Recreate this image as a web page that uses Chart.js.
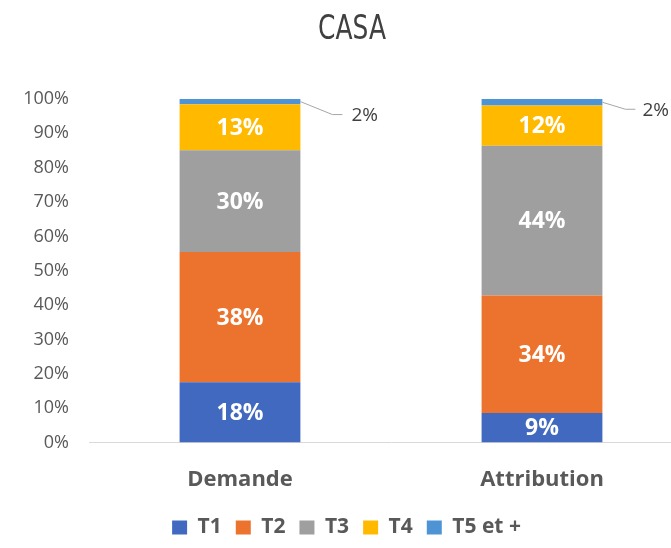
<!DOCTYPE html>
<html>
<head>
<meta charset="utf-8">
<script src="https://cdn.jsdelivr.net/npm/chart.js@4"></script>
<style>
  html, body { margin: 0; padding: 0; background: #fff; overflow: hidden; }
  #wrap { width: 671px; height: 548px; overflow: hidden; }
  #box { width: 693px; height: 548px; }
</style>
</head>
<body>
<div id="wrap"><div id="box"><canvas id="casaChart"></canvas></div></div>
<script>
// Valeurs (en %)
const categories = ['Demande', 'Attribution'];
const seriesNames = ['T1', 'T2', 'T3', 'T4', 'T5 et +'];
const t1 = [17.6, 8.6];
const t2 = [37.9, 34.2];
const t3 = [29.6, 43.6];
const t4 = [13.4, 11.7];
const t5 = [1.5, 1.9];
const yTicks = [0, 10, 20, 30, 40, 50, 60, 70, 80, 90, 100];
const chartTitle = 'CASA';

const colors = ['#4169C0', '#EB732D', '#9F9F9F', '#FFBA00', '#4E93D4'];
const allSeries = [t1, t2, t3, t4, t5];

// titre en police condensee (dessine a la main, etire horizontalement)
const condensedTitle = {
    id: 'condensedTitle',
    afterDraw(chart) {
        const ctx = chart.ctx;
        ctx.save();
        ctx.font = '33px "DejaVu Sans Condensed", "Liberation Sans Narrow", "DejaVu Sans", sans-serif';
        if ('fontStretch' in ctx) ctx.fontStretch = 'condensed';
        ctx.fillStyle = '#404040';
        ctx.textAlign = 'center';
        ctx.textBaseline = 'middle';
        ctx.translate(352, 30);
        ctx.scale(0.84, 1);
        ctx.fillText(chartTitle, 0, 0);
        ctx.restore();
    }
};

// labels de valeurs dans les barres + etiquettes avec ligne de rappel pour T5
const barLabels = {
    id: 'barLabels',
    afterDatasetsDraw(chart) {
        const ctx = chart.ctx;
        ctx.save();
        chart.data.datasets.forEach((ds, i) => {
            const meta = chart.getDatasetMeta(i);
            meta.data.forEach((bar, j) => {
                const txt = Math.round(ds.data[j]) + '%';
                if (i < 4) {
                    ctx.fillStyle = '#ffffff';
                    ctx.font = 'bold 23px "Open Sans"';
                    ctx.textAlign = 'center';
                    ctx.textBaseline = 'middle';
                    ctx.fillText(txt, bar.x, (bar.y + bar.base) / 2 + 1);
                } else {
                    // decalages de la ligne de rappel (Demande, Attribution)
                    const lead = [[32, 13, 42, 51], [23, 7, 33, 40]][j];
                    const x0 = bar.x + bar.width / 2;
                    const y0 = (bar.y + bar.base) / 2;
                    ctx.strokeStyle = '#A6A6A6';
                    ctx.lineWidth = 1;
                    ctx.beginPath();
                    ctx.moveTo(x0, y0);
                    ctx.lineTo(x0 + lead[0], y0 + lead[1]);
                    ctx.lineTo(x0 + lead[2], y0 + lead[1]);
                    ctx.stroke();
                    ctx.fillStyle = '#404040';
                    ctx.font = '19px "Open Sans"';
                    ctx.textAlign = 'left';
                    ctx.textBaseline = 'middle';
                    ctx.fillText(txt, x0 + lead[3], y0 + lead[1] + 1);
                }
            });
        });
        ctx.restore();
    }
};

var casaChart = new Chart(document.getElementById('casaChart').getContext('2d'), {
    type: 'bar',
    data: {
        labels: categories,
        datasets: allSeries.map((d, i) => ({
            label: seriesNames[i],
            data: d,
            backgroundColor: colors[i],
            borderWidth: 0,
            barPercentage: 0.4,
            categoryPercentage: 1
        }))
    },
    options: {
        responsive: true,
        maintainAspectRatio: false,
        animation: false,
        layout: { padding: { left: 0, right: 0, top: 99, bottom: 0 } },
        plugins: {
            title: { display: false },
            legend: {
                position: 'bottom',
                labels: {
                    boxWidth: 15,
                    boxHeight: 14,
                    padding: 14,
                    color: '#595959',
                    font: { family: '"Open Sans"', size: 21, weight: 'bold' }
                }
            },
            tooltip: { enabled: false }
        },
        scales: {
            x: {
                stacked: true,
                grid: { display: false },
                border: { color: '#D9D9D9', width: 1 },
                afterFit: (s) => { s.height = s.height - 6; },
                ticks: {
                    color: '#595959',
                    padding: 16,
                    font: { family: '"Open Sans"', size: 22, weight: 'bold' }
                }
            },
            y: {
                stacked: true,
                min: 0,
                max: 100,
                afterBuildTicks: (s) => { s.ticks = yTicks.map(v => ({ value: v })); },
                afterFit: (s) => { s.width = 89; },
                grid: { display: false },
                border: { display: false },
                ticks: {
                    color: '#595959',
                    padding: 12,
                    font: { family: '"Open Sans"', size: 18 },
                    callback: (v) => v + '%'
                }
            }
        }
    },
    plugins: [barLabels, condensedTitle]
});
</script>
</body>
</html>
